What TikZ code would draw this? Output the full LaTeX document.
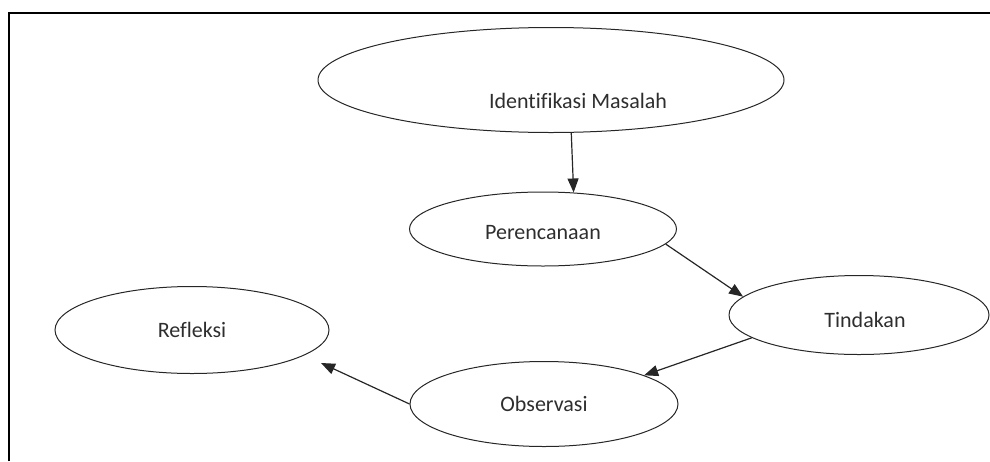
\documentclass[tikz,border=0pt]{standalone}
\usepackage{fontspec}
\setmainfont[Ligatures=NoCommon]{Carlito}
\usetikzlibrary{shapes.geometric,arrows.meta}
\begin{document}
\begin{tikzpicture}[x=1pt,y=-1pt,
  oval/.style={draw=black!85,line width=1pt,ellipse,inner sep=0pt,font=\fontsize{22}{26}\selectfont,text=black!82},
  conn/.style={draw=black!85,line width=1.2pt,-{Triangle[length=14pt,width=11pt]}}]
\useasboundingbox (0,0) rectangle (990,461);
\draw[line width=1.6pt] (9,461) -- (9,13) -- (990,13);
\node[oval,minimum width=466pt,minimum height=105pt,
  label={[font=\fontsize{22}{26}\selectfont,text=black!82,xshift=27pt,yshift=-21pt]center:Identifikasi Masalah}] (m) at (551,80) {};
\node[oval,minimum width=267pt,minimum height=74pt] (p) at (543,229) {\raisebox{-3pt}[15pt][0pt]{Perencanaan}};
\node[oval,minimum width=260pt,minimum height=79pt] (t) at (859,315) {\hspace*{12pt}\raisebox{-5pt}[15pt][0pt]{Tindakan}};
\node[oval,minimum width=268pt,minimum height=85pt] (o) at (544,404) {Observasi};
\node[oval,minimum width=274pt,minimum height=87pt] (r) at (192,330) {Refleksi};
\coordinate (r1) at (321,363);
\draw[conn] (m.-69) -- (p.50);
\draw[conn] (p.-7) -- (t.171);
\draw[conn] (t.192) -- (o.16);
\draw[conn] (o.west) -- (r1);
\end{tikzpicture}
\end{document}
